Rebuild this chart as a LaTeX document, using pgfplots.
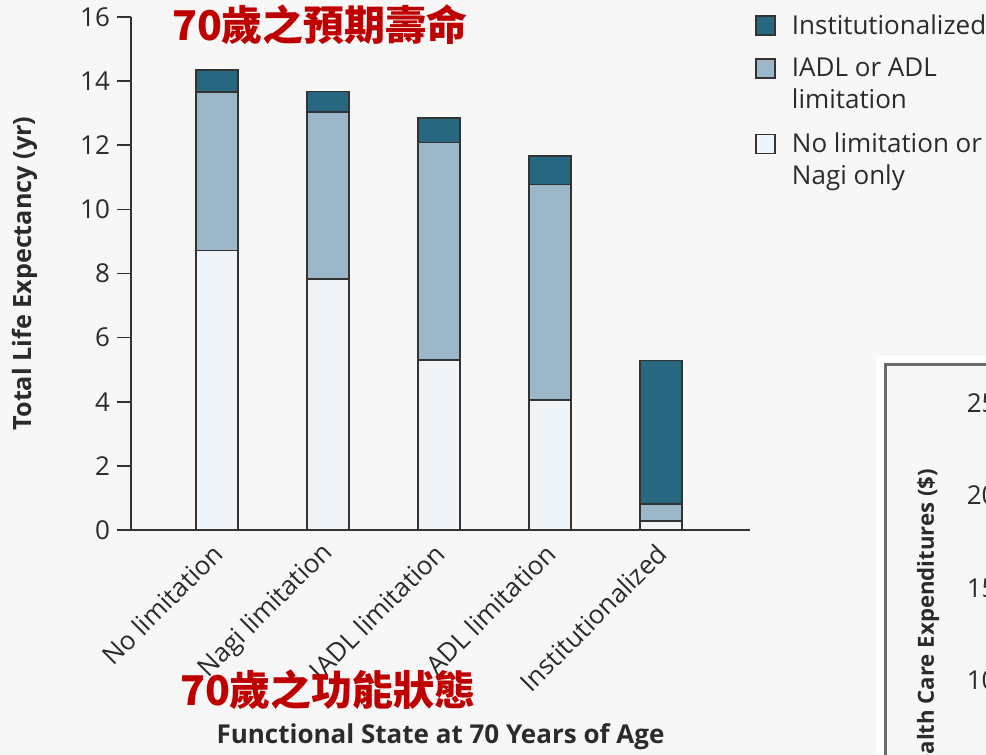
\documentclass[border=0pt]{standalone}
\usepackage{pgfplots}
\pgfplotsset{compat=1.18}
\usepackage{fontspec}
\setmainfont{Open Sans}
\newfontfamily\cjk{Noto Sans CJK TC}
\definecolor{bgc}{HTML}{F7F7F7}
\definecolor{inst}{HTML}{286780}
\definecolor{adl}{HTML}{9CB7C9}
\definecolor{nolim}{HTML}{EEF4F7}
\definecolor{txt}{HTML}{2B2B2B}
\definecolor{edge}{HTML}{333333}
\definecolor{anno}{HTML}{BF0000}
\definecolor{frame}{HTML}{6B6B6B}

\pgfplotstableread{
x nolim adl inst
0 8.72 4.95 0.67
1 7.83 5.20 0.65
2 5.30 6.78 0.77
3 4.05 6.73 0.89
4 0.28 0.53 4.48
}\lifeexp

\begin{document}
\begin{tikzpicture}
\fill[bgc] (0pt,0pt) rectangle (493pt,-377.5pt);
\useasboundingbox (0pt,0pt) rectangle (493pt,-377.5pt);
% frame of the neighbouring panel
\fill[white] (438pt,-178pt) rectangle (510pt,-400pt);
\draw[frame, line width=1.5pt, fill=bgc] (442.75pt,-182.25pt) rectangle (520pt,-420pt);

\begin{axis}[
  at={(65.5pt,-265pt)}, anchor=south west,
  scale only axis, width=309.5pt, height=256.5pt,
  xmin=-0.775, xmax=4.8, ymin=0, ymax=16,
  axis x line=bottom, axis y line=left,
  axis line style={-, draw=edge, line width=0.8pt},
  ytick={0,2,...,16}, xtick={0,1,2,3,4},
  xticklabels={No limitation, Nagi limitation, IADL limitation, ADL limitation, Institutionalized},
  x tick style={draw=none},
  y tick style={draw=edge, line width=0.8pt},
  tick align=outside, major tick length=7pt,
  ticklabel style={font=\fontsize{13}{15}\selectfont, text=txt},
  /pgf/number format/assume math mode=true,
  xticklabel style={rotate=45, anchor=east, yshift=-2pt, xshift=2pt},
  ylabel={Total Life Expectancy (yr)},
  ylabel style={at={(axis description cs:-0.171,0.5)}, anchor=center, font=\bfseries\fontsize{12.6}{15}\selectfont, text=txt},
  xlabel={Functional State at 70 Years of Age},
  xlabel style={at={(axis description cs:0.5,-0.4035)}, anchor=center, font=\bfseries\fontsize{13}{15}\selectfont, text=txt},
  ybar stacked, bar width=21pt,
  legend reversed,
  legend style={at={(axis description cs:1.008,1.006)}, anchor=north west, draw=none, fill=none,
    font=\fontsize{13}{16}\selectfont, text=txt,
    cells={anchor=base west, align=left}, nodes={inner sep=0pt},
    row sep=10.5pt, column sep=8pt, inner sep=0pt},
]
\addplot[fill=nolim, draw=edge, line width=0.8pt,
  legend image code/.code={\draw[fill=nolim, draw=edge, line width=0.8pt] (0pt,15.5pt) rectangle (9.5pt,25pt);}]
  table[x=x, y=nolim] {\lifeexp};
\addlegendentry{No limitation or\\Nagi only}
\addplot[fill=adl, draw=edge, line width=0.8pt,
  legend image code/.code={\draw[fill=adl, draw=edge, line width=0.8pt] (0pt,15.5pt) rectangle (9.5pt,25pt);}]
  table[x=x, y=adl] {\lifeexp};
\addlegendentry{IADL or ADL\\limitation}
\addplot[fill=inst, draw=edge, line width=0.8pt,
  legend image code/.code={\draw[fill=inst, draw=edge, line width=0.8pt] (0pt,-0.5pt) rectangle (9.5pt,9pt);}]
  table[x=x, y=inst] {\lifeexp};
\addlegendentry{Institutionalized}
\end{axis}

% neighbouring panel (cropped)
\begin{axis}[
  at={(482pt,-433pt)}, anchor=south west,
  scale only axis, width=20pt, height=230.5pt,
  xmin=0, xmax=1, ymin=0, ymax=25,
  axis x line=none, axis y line=left,
  axis line style={draw=none},
  ytick={0,5,10,15,20,25},
  yticklabels={{0},{50,000},{100,000},{150,000},{200,000},{250,000}},
  yticklabel style={anchor=west, font=\fontsize{13}{15}\selectfont, text=txt},
  y tick style={draw=none},
  ylabel={Total Health Care Expenditures (\$)},
  ylabel style={at={(axis description cs:-0.9,0.877)}, anchor=east, font=\bfseries\fontsize{11.1}{14}\selectfont, text=txt},
]
\end{axis}

\node[text=anno, font=\cjk\bfseries\fontsize{20.5}{22}\selectfont] at (160pt,-12.5pt) {70歲之預期壽命};
\node[text=anno, font=\cjk\bfseries\fontsize{20.5}{22}\selectfont] at (164pt,-345pt) {70歲之功能狀態};
\end{tikzpicture}
\end{document}
